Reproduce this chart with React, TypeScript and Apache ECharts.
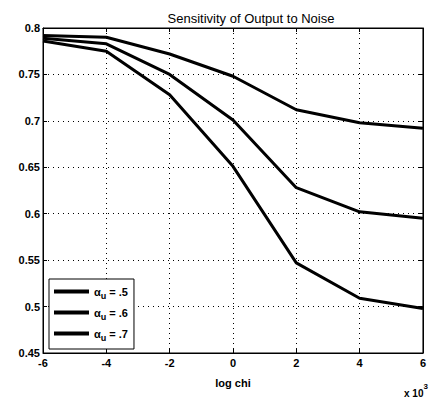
import React, { useEffect, useRef } from "react";
import * as echarts from "echarts";

const xValues = [-6, -4, -2, 0, 2, 4, 6];
const seriesA5 = [0.792, 0.790, 0.772, 0.748, 0.712, 0.698, 0.692];
const seriesA6 = [0.789, 0.783, 0.750, 0.701, 0.628, 0.602, 0.595];
const seriesA7 = [0.786, 0.775, 0.728, 0.651, 0.547, 0.509, 0.498];
const seriesNames = ["a5", "a6", "a7"];
const legendLabels: Record<string, string> = { a5: ".5", a6: ".6", a7: ".7" };

export default function App() {
  const ref = useRef<HTMLDivElement>(null);
  useEffect(() => {
    if (!ref.current) return;
    const chart = echarts.init(ref.current, null, { renderer: "svg" });
    const font = "Liberation Sans, Arial, sans-serif";
    const mk = (name: string, vals: number[]) => ({
      name,
      type: "line",
      data: xValues.map((x, i) => [x, vals[i]]),
      symbol: "none",
      lineStyle: { color: "#000", width: 3 },
      itemStyle: { color: "#000" },
    });
    const grid = { left: 43, right: 1, top: 28, bottom: 45, show: true, borderColor: "#000", borderWidth: 1 };
    const axLine = { show: true, onZero: false, lineStyle: { color: "#000" } };
    const tick = { show: true, inside: true, length: 4, lineStyle: { color: "#000" } };
    const split = { show: true, lineStyle: { color: "#000", type: [1, 4], width: 1 } };
    chart.setOption({
      animation: false,
      backgroundColor: "#fff",
      title: {
        text: "Sensitivity of Output to Noise",
        left: 246,
        textAlign: "center",
        top: 7,
        textStyle: { fontFamily: font, fontSize: 13, fontWeight: "normal", color: "#000" },
      },
      grid,
      xAxis: [
        {
          type: "value",
          min: -6,
          max: 6,
          interval: 2,
          name: "log chi",
          nameLocation: "middle",
          nameGap: 24,
          nameTextStyle: { fontFamily: font, fontSize: 11, fontWeight: "bold", color: "#000" },
          axisLine: axLine,
          axisTick: tick,
          axisLabel: { fontFamily: font, fontSize: 11, fontWeight: "bold", color: "#000", margin: 4 },
          splitLine: split,
        },
        {
          type: "value",
          position: "top",
          min: -6,
          max: 6,
          interval: 2,
          axisLine: axLine,
          axisTick: tick,
          axisLabel: { show: false },
          splitLine: { show: false },
        },
      ],
      yAxis: [
        {
          type: "value",
          min: 0.45,
          max: 0.8,
          interval: 0.05,
          axisLine: axLine,
          axisTick: tick,
          axisLabel: {
            fontFamily: font,
            fontSize: 11,
            fontWeight: "bold",
            color: "#000",
            margin: 3,
            formatter: (v: number) => String(parseFloat(v.toFixed(2))),
          },
          splitLine: split,
        },
        {
          type: "value",
          position: "right",
          min: 0.45,
          max: 0.8,
          interval: 0.05,
          axisLine: axLine,
          axisTick: tick,
          axisLabel: { show: false },
          splitLine: { show: false },
        },
      ],
      legend: {
        data: seriesNames,
        orient: "vertical",
        left: 49,
        top: 279,
        width: 79,
        itemWidth: 35,
        itemHeight: 4,
        itemGap: 7,
        icon: "rect",
        padding: [7, 6, 7, 5],
        borderColor: "#000",
        borderWidth: 1,
        backgroundColor: "#fff",
        formatter: (n: string) => `{a|α}{s|u}{b| = ${legendLabels[n]}}`,
        textStyle: {
          color: "#000",
          fontFamily: font,
          fontSize: 11,
          fontWeight: "bold",
          rich: {
            a: { fontFamily: font, fontSize: 11, fontWeight: "bold", color: "#000" },
            s: { fontFamily: font, fontSize: 9, fontWeight: "bold", color: "#000", verticalAlign: "bottom", padding: [8, 0, 0, 0] },
            b: { fontFamily: font, fontSize: 11, fontWeight: "bold", color: "#000" },
          },
        },
      },
      graphic: [
        {
          type: "text",
          left: 404,
          top: 382,
          style: {
            text: "{m|x 10}{p|3}",
            rich: {
              m: { fontFamily: font, fontSize: 10, fontWeight: "bold", fill: "#000", padding: [6, 0, 0, 0] },
              p: { fontFamily: font, fontSize: 8, fontWeight: "bold", fill: "#000", verticalAlign: "top" },
            },
          },
        },
      ],
      series: [mk("a5", seriesA5), mk("a6", seriesA6), mk("a7", seriesA7)],
    });
    return () => chart.dispose();
  }, []);
  return <div ref={ref} style={{ width: 429, height: 398, position: "absolute", left: 0, top: 0 }} />;
}
